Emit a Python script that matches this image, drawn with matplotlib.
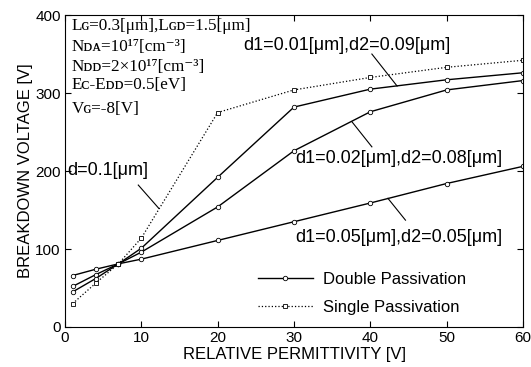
import matplotlib
matplotlib.use("Agg")
import matplotlib.pyplot as plt

# relative permittivity values
eps = [1, 4, 7, 10, 20, 30, 40, 50, 60]

# breakdown voltage [V]
single_pass = [30, 56, 81, 114, 275, 304, 320, 333, 342]
d_01 = [52, 67, 81, 101, 192, 282, 305, 317, 326]        # d1=0.01, d2=0.09
d_02 = [45, 62, 81, 96, 154, 226, 276, 304, 316]         # d1=0.02, d2=0.08
d_05 = [66, 74, 81, 87, 111, 135, 159, 184, 206]         # d1=0.05, d2=0.05

sans = ['Liberation Sans', 'DejaVu Sans']
serif = ['Liberation Serif', 'DejaVu Serif']
plt.rcParams['font.family'] = sans

fig = plt.figure(figsize=(5.31, 3.67), dpi=100)
ax = fig.add_axes([0.1224, 0.109, 0.8626, 0.85])

mk = dict(markersize=3.2, markerfacecolor='white', markeredgewidth=0.6)
ax.plot(eps, d_01, '-', color='black', lw=1.0, marker='o', label='Double Passivation', **mk)
ax.plot(eps, d_02, '-', color='black', lw=1.0, marker='o', **mk)
ax.plot(eps, d_05, '-', color='black', lw=1.0, marker='o', **mk)
ax.plot(eps, single_pass, ':', color='black', lw=0.9, marker='s', label='Single Passivation', **mk)

ax.set_xlim(0, 60)
ax.set_ylim(0, 400)
ax.set_xticks([0, 10, 20, 30, 40, 50, 60])
ax.set_yticks([0, 100, 200, 300, 400])
ax.tick_params(direction='in', top=True, right=True, labelsize=11, length=4, pad=3)
ax.set_xlabel('RELATIVE PERMITTIVITY [V]', fontsize=12, labelpad=1)
ax.set_ylabel('BREAKDOWN VOLTAGE [V]', fontsize=12, labelpad=2)

# device parameters
params = ['Lɢ=0.3[μm],Lɢᴅ=1.5[μm]',
          'Nᴅᴀ=10¹⁷[cm⁻³]',
          'Nᴅᴅ=2×10¹⁷[cm⁻³]',
          'Eᴄ-Eᴅᴅ=0.5[eV]',
          'Vɢ=-8[V]']
ys = [386, 359, 334, 310, 279]
for t, y in zip(params, ys):
    ax.text(0.9, y, t, family=serif, fontsize=12.3, va='center')

# curve labels with leader lines
ax.text(0.3, 201, 'd=0.1[μm]', fontsize=13, va='center')
ax.plot([9.6, 12.3], [182, 152], color='black', lw=0.8)

ax.text(23.3, 361, 'd1=0.01[μm],d2=0.09[μm]', fontsize=13, va='center')
ax.plot([40.2, 43.5], [350, 309], color='black', lw=0.8)

ax.text(30.2, 216, 'd1=0.02[μm],d2=0.08[μm]', fontsize=13, va='center')
ax.plot([40.2, 37.6], [231, 263], color='black', lw=0.8)

ax.text(30.2, 115, 'd1=0.05[μm],d2=0.05[μm]', fontsize=13, va='center')
ax.plot([44.6, 42.3], [137, 165], color='black', lw=0.8)

ax.legend(loc='upper left', bbox_to_anchor=(0.421, 0.177), frameon=False,
          borderpad=0, borderaxespad=0, fontsize=12, handlelength=3.3,
          handletextpad=0.6, labelspacing=0.8)

fig.savefig('out.png', dpi=100)
